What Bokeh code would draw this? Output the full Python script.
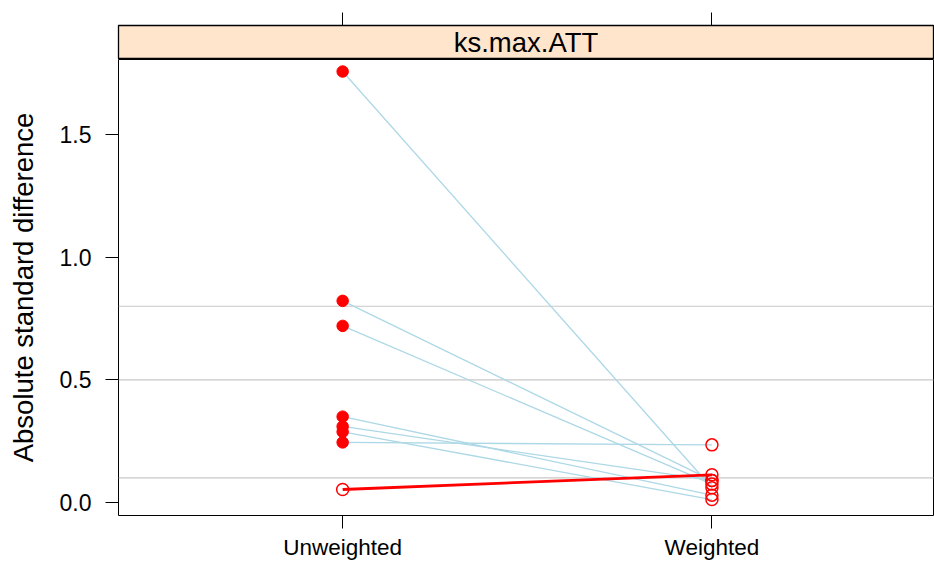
from bokeh.plotting import figure
from bokeh.layouts import column
from bokeh.models import (Range1d, FixedTicker, LinearAxis, Span, Label)
from bokeh.embed import file_html
from bokeh.resources import INLINE

# ---- data ----
groups = ["Unweighted", "Weighted"]
unweighted = [1.757, 0.822, 0.720, 0.350, 0.310, 0.288, 0.245, 0.053]
weighted = [0.060, 0.090, 0.075, 0.030, 0.090, 0.012, 0.235, 0.113]
unw_significant = [True, True, True, True, True, True, True, False]
wt_significant = [False] * 8
ref_lines = [0.1, 0.5, 0.8]
y_ticks = [0.0, 0.5, 1.0, 1.5]
strip_label = "ks.max.ATT"
y_title = "Absolute standard difference"

FONT = "Liberation Sans"
y_lo, y_hi = -0.053, 1.806
x_lo, x_hi = 0.393, 2.6
x_range = Range1d(x_lo, x_hi)


def style_axis(ax, labels=True, size="23px"):
    ax.axis_line_color = None
    ax.major_tick_line_color = "black"
    ax.major_tick_line_width = 1
    ax.major_tick_out = 13
    ax.major_tick_in = 0
    ax.minor_tick_line_color = None
    ax.major_label_text_font = FONT
    ax.major_label_text_font_size = size
    ax.major_label_text_color = "black" if labels else None


# ---- strip (panel header) ----
strip = figure(width=934, height=59, output_backend="svg", toolbar_location=None,
               x_range=x_range, y_range=Range1d(0, 1),
               min_border_left=118, min_border_right=1, min_border_top=25,
               min_border_bottom=0, x_axis_location=None, y_axis_location=None)
strip.xgrid.visible = False
strip.ygrid.visible = False
strip.background_fill_color = "#FFE5CC"
strip.border_fill_color = "white"
strip.outline_line_color = "black"
strip.outline_line_width = 1.3
top = LinearAxis(ticker=FixedTicker(ticks=[1, 2]))
style_axis(top, labels=False)
top.major_label_text_font_size = "0px"
top.major_label_standoff = 0
strip.add_layout(top, "above")
strip.add_layout(Label(x=(x_lo + x_hi) / 2, y=0.5, text=strip_label,
                       text_font=FONT, text_font_size="27.5px", text_align="center",
                       text_baseline="middle", text_color="black"))

# ---- main panel ----
p = figure(width=934, height=503, output_backend="svg", toolbar_location=None,
           x_range=x_range, y_range=Range1d(y_lo, y_hi),
           min_border_left=118, min_border_right=1, min_border_top=0,
           min_border_bottom=47, x_axis_location=None, y_axis_location=None)
p.xgrid.visible = False
p.ygrid.visible = False
p.outline_line_color = "black"
p.outline_line_width = 1
p.background_fill_color = "white"
p.border_fill_color = "white"

left = LinearAxis(ticker=FixedTicker(ticks=y_ticks))
style_axis(left)
left.major_label_overrides = {v: f"{v:.1f}" for v in y_ticks}
left.major_label_standoff = 14
left.axis_label = y_title
left.axis_label_text_font = FONT
left.axis_label_text_font_size = "27.5px"
left.axis_label_text_font_style = "normal"
left.axis_label_text_color = "black"
left.axis_label_standoff = 18
p.add_layout(left, "left")

bottom = LinearAxis(ticker=FixedTicker(ticks=[1, 2]))
style_axis(bottom, size="22.5px")
bottom.major_label_overrides = {1: groups[0], 2: groups[1]}
bottom.major_label_standoff = 6
p.add_layout(bottom, "below")

for v in ref_lines:
    p.add_layout(Span(location=v, dimension="width", line_color="#C8C8C8",
                      line_width=1.2, level="underlay"))

# connecting lines
for u, w in zip(unweighted, weighted):
    if u < w:
        p.line([1, 2], [u, w], line_color="red", line_width=2.8)
    else:
        p.line([1, 2], [u, w], line_color="#ADD8E6", line_width=1.3)

# points
for xi, vals, sig in ((1, unweighted, unw_significant), (2, weighted, wt_significant)):
    fx = [xi for s in sig if s]
    fy = [v for v, s in zip(vals, sig) if s]
    ox = [xi for s in sig if not s]
    oy = [v for v, s in zip(vals, sig) if not s]
    if fx:
        p.scatter(fx, fy, size=11.5, fill_color="red", line_color="red", line_width=1)
    if ox:
        p.scatter(ox, oy, size=12, fill_color=None, line_color="red", line_width=1.5)

layout = column(strip, p, spacing=0)
open("out.html", "w").write(file_html(layout, INLINE))
